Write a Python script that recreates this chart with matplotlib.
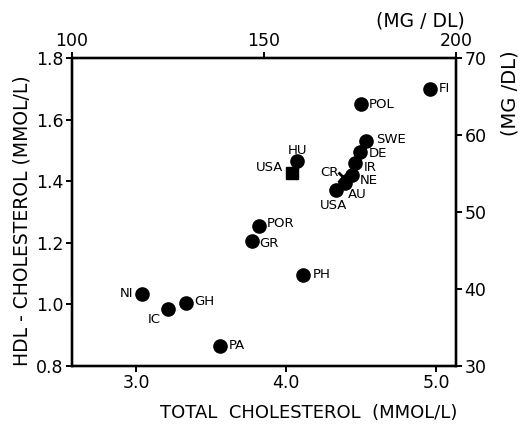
import matplotlib.pyplot as plt
from matplotlib.ticker import FormatStrFormatter

# countries shown as filled dots
countries = ["FI", "POL", "SWE", "DE", "IR", "NE", "AU", "USA", "HU",
             "POR", "GR", "PH", "NI", "IC", "GH", "PA"]
total_chol = [4.96, 4.50, 4.53, 4.49, 4.46, 4.44, 4.39, 4.33, 4.07,
              3.82, 3.77, 4.11, 3.04, 3.21, 3.33, 3.56]   # mmol/l
hdl_chol = [1.70, 1.65, 1.53, 1.495, 1.46, 1.42, 1.395, 1.37, 1.465,
            1.255, 1.205, 1.095, 1.035, 0.985, 1.005, 0.865]  # mmol/l

# the other two symbols
square_label, square_total, square_hdl = "USA", 4.04, 1.425
cross_label, cross_total, cross_hdl = "CR", 4.38, 1.415

x_ticks = [3.0, 4.0, 5.0]
y_ticks = [0.8, 1.0, 1.2, 1.4, 1.6, 1.8]
top_ticks = [100, 150, 200]
right_ticks = [30, 40, 50, 60, 70]

# label offsets in pixels (dx, dy, ha)
offsets = {
    "FI": (8, 0, "left"), "POL": (8, 0, "left"), "SWE": (10, 2, "left"),
    "DE": (9, -2, "left"), "IR": (9, -5, "left"), "NE": (8, -6, "left"),
    "AU": (3, -12, "left"), "USA": (-2, -15, "center"), "HU": (1, 11, "center"),
    "POR": (8, 2, "left"), "GR": (8, -2, "left"), "PH": (10, 1, "left"),
    "NI": (-9, 0, "right"), "IC": (-13, -11, "center"), "GH": (9, 1, "left"),
    "PA": (9, 0, "left"),
}

plt.rcParams["font.family"] = ["DejaVu Sans"]

fig = plt.figure(figsize=(5.25, 4.26), dpi=100)
ax = fig.add_axes([0.137, 0.141, 0.732, 0.723])

ax.plot(total_chol, hdl_chol, "o", color="black", markersize=9.5)
ax.plot([square_total], [square_hdl], "s", color="black", markersize=9)
ax.plot([cross_total], [cross_hdl], "x", color="black", markersize=7, mew=2)

for name, xv, yv in zip(countries, total_chol, hdl_chol):
    dx, dy, ha = offsets[name]
    ax.annotate(name, (xv, yv), xytext=(dx, dy), textcoords="offset pixels",
                ha=ha, va="center", fontsize=9.5)
ax.annotate(square_label, (square_total, square_hdl), xytext=(-9, 6),
            textcoords="offset pixels", ha="right", va="center", fontsize=9.5)
ax.annotate(cross_label, (cross_total, cross_hdl), xytext=(-5, 4),
            textcoords="offset pixels", ha="right", va="center", fontsize=9.5)

ax.set_xlim(2.573, 5.133)
ax.set_ylim(0.8, 1.8)
ax.set_xticks(x_ticks)
ax.set_yticks(y_ticks)
ax.xaxis.set_major_formatter(FormatStrFormatter("%.1f"))
ax.yaxis.set_major_formatter(FormatStrFormatter("%.1f"))
ax.set_xlabel("TOTAL  CHOLESTEROL  (MMOL/L)", fontsize=13)
ax.xaxis.set_label_coords(0.615, -0.125)
ax.set_ylabel("HDL - CHOLESTEROL (MMOL/L)", fontsize=13.5)
ax.yaxis.set_label_coords(-0.104, 0.47)

ax_top = ax.twiny()
ax_top.set_xlim(100, 200)
ax_top.set_xticks(top_ticks)

ax_right = ax.twinx()
ax_right.set_ylim(30, 70)
ax_right.set_yticks(right_ticks)

fig.text(0.971, 0.782, "(MG /DL)", fontsize=14, rotation=90,
         ha="center", va="center")
fig.text(0.80, 0.95, "(MG / DL)", fontsize=13.5, ha="center", va="center")

for a in (ax, ax_top, ax_right):
    for sp in a.spines.values():
        sp.set_linewidth(1.6)
    a.tick_params(direction="out", length=4, width=1.4, labelsize=12.5, pad=2)

fig.savefig("out.png", dpi=100)
